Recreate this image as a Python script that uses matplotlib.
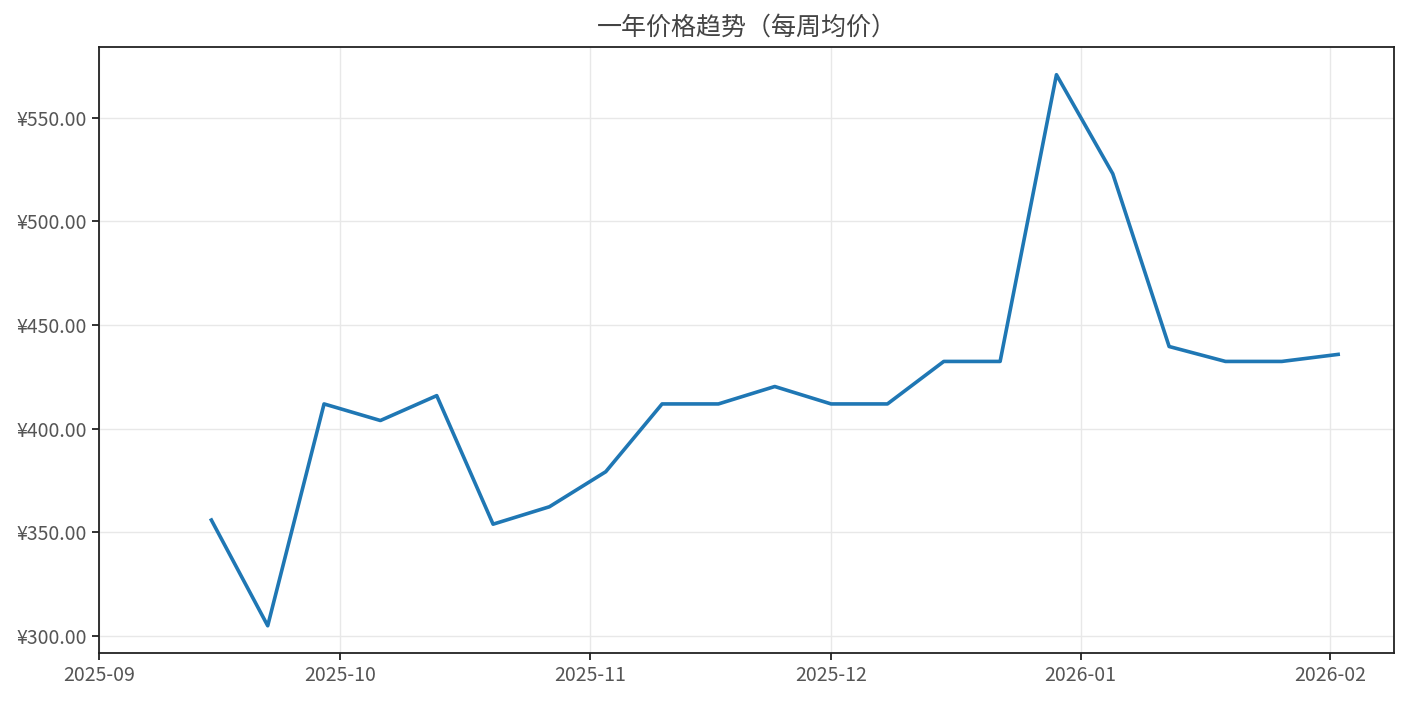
import numpy as np
import pandas as pd
import matplotlib
matplotlib.use("Agg")
import matplotlib.pyplot as plt
import matplotlib.dates as mdates
from matplotlib.ticker import FuncFormatter

plt.rcParams['font.family'] = ['Noto Sans CJK SC', 'DejaVu Sans']
plt.rcParams['font.weight'] = 'light'

# weekly average prices
weeks = pd.date_range("2025-09-15", "2026-02-02", freq="7D")
prices = [356.0, 305.0, 412.0, 404.0, 416.0, 354.0, 362.4, 379.3, 412.0, 412.0,
          420.4, 412.0, 412.0, 432.5, 432.5, 570.8, 523.0, 439.7, 432.5, 432.5,
          435.9]
title = "一年价格趋势（每周均价）"

fig, ax = plt.subplots(figsize=(14.1, 7.04), dpi=100)
fig.subplots_adjust(left=0.07, right=0.989, top=0.933, bottom=0.072)

ax.plot(weeks, prices, color="#1f77b4", linewidth=2.6)
ax.set_xlim(pd.Timestamp("2025-09-01"), pd.Timestamp("2026-02-09"))

ax.xaxis.set_major_locator(mdates.MonthLocator())
ax.xaxis.set_major_formatter(mdates.DateFormatter("%Y-%m"))
ax.yaxis.set_major_formatter(FuncFormatter(lambda v, p: "¥{:.2f}".format(v)))

ax.grid(True, color="#e8e8e8", linewidth=1)
ax.set_axisbelow(True)
for s in ax.spines.values():
    s.set_linewidth(1.3)
    s.set_color("#222222")
ax.tick_params(labelsize=14, colors="#222222", labelcolor="#555555", width=1.3, length=5)

ax.set_title(title, fontsize=18, color="#444444", pad=9)

fig.savefig("out.png", dpi=100)
